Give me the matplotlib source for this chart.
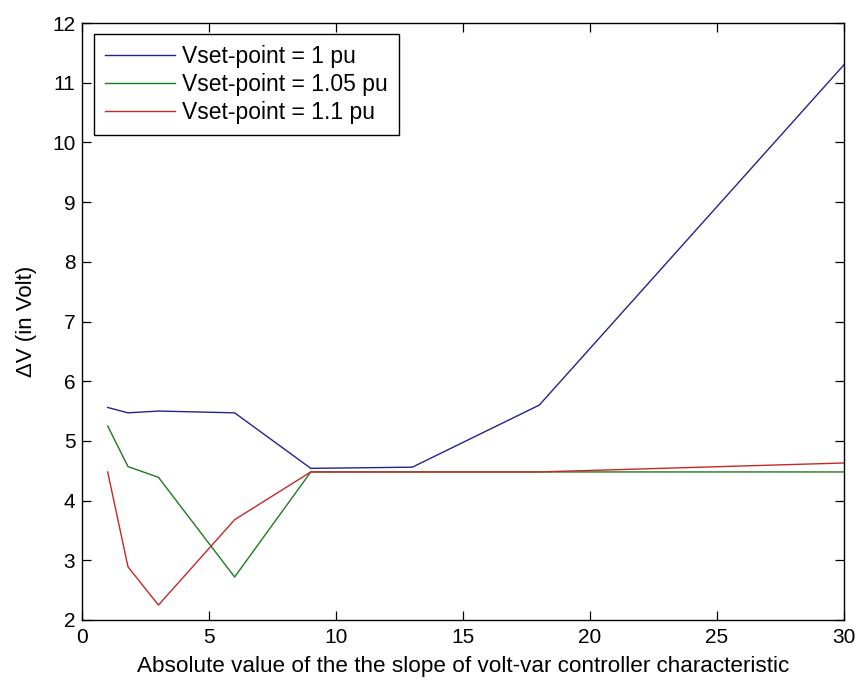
import matplotlib
matplotlib.use("Agg")
import matplotlib.pyplot as plt

# slope values where the curves change direction
slope = [1, 1.8, 3, 6, 9, 13, 18, 30]

dv_1pu = [5.56, 5.47, 5.50, 5.47, 4.54, 4.56, 5.60, 11.30]
dv_105pu = [5.25, 4.57, 4.39, 2.72, 4.48, 4.48, 4.48, 4.48]
dv_11pu = [4.48, 2.89, 2.25, 3.68, 4.48, 4.48, 4.48, 4.63]

labels = ["Vset-point = 1 pu", "Vset-point = 1.05 pu", "Vset-point = 1.1 pu"]
x_ticks = [0, 5, 10, 15, 20, 25, 30]
y_ticks = [2, 3, 4, 5, 6, 7, 8, 9, 10, 11, 12]

plt.rcParams["font.family"] = ["Liberation Sans", "DejaVu Sans"]

fig = plt.figure(figsize=(8.59, 6.85), dpi=100)
ax = fig.add_axes([0.0958, 0.0949, 0.9825 - 0.0958, 0.9664 - 0.0949])

ax.plot(slope, dv_1pu, color="#23238e", lw=1.0, label=labels[0])
ax.plot(slope, dv_105pu, color="#1e7b1e", lw=1.0, label=labels[1])
ax.plot(slope, dv_11pu, color="#c62828", lw=1.0, label=labels[2])

ax.set_xlim(0, 30)
ax.set_ylim(2, 12)
ax.set_xticks(x_ticks)
ax.set_yticks(y_ticks)
ax.tick_params(direction="in", length=6.5, width=0.9, top=True, right=True,
               labelsize=15, colors="black")
ax.tick_params(axis="x", pad=6)
ax.tick_params(axis="y", pad=5)
for sp in ax.spines.values():
    sp.set_linewidth(1.0)
    sp.set_color("black")

ax.set_xlabel("Absolute value of the the slope of volt-var controller characteristic",
              fontsize=16.2, labelpad=6)
ax.set_ylabel("ΔV (in Volt)", fontsize=16, labelpad=11)

leg = ax.legend(loc="upper left", bbox_to_anchor=(0.0154, 0.9816), borderaxespad=0,
                fontsize=16.5, handlelength=3.05, handletextpad=0.3, labelspacing=0.2,
                borderpad=0.5, fancybox=False, framealpha=1, edgecolor="black")
leg.get_frame().set_linewidth(1.0)

fig.savefig("out.png", dpi=100)
